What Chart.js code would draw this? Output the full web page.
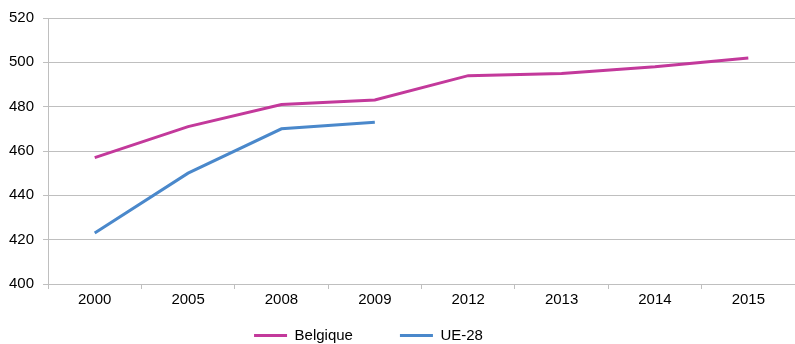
<!DOCTYPE html>
<html><head><meta charset="utf-8">
<script src="https://cdn.jsdelivr.net/npm/chart.js@4/dist/chart.umd.min.js"></script>
<style>html,body{margin:0;padding:0;background:#fff}#w{width:795px;height:344px;position:relative}</style>
</head><body><div id="w"><canvas id="c"></canvas></div>
<script>
const categories = ["2000","2005","2008","2009","2012","2013","2014","2015"];
const belgique = [457, 471, 481, 483, 494, 495, 498, 502];
const ue28 = [423, 450, 470, 473, null, null, null, null];
const yTicks = [400, 420, 440, 460, 480, 500, 520];

Chart.defaults.font.family = "'Liberation Sans', Arial, sans-serif";
Chart.defaults.font.size = 15;
Chart.defaults.color = "#000";

const LEGEND_H = 35;
const legendTweak = {
  id: 'legendTweak',
  beforeUpdate(chart) {
    const lg = chart.legend;
    if (lg && !lg._patched) {
      const orig = lg.fit.bind(lg);
      lg.fit = function () { orig(); this.height = LEGEND_H; };
      lg._patched = true;
    }
  },
  beforeDraw(chart) {
    const lg = chart.legend;
    if (!lg) return;
    const P = lg.options.labels.padding;
    const bottom = chart.height;
    lg.top = bottom - 16 - P;
    lg.bottom = bottom;
    lg.height = lg.bottom - lg.top;
    lg.left = -29;
    lg.right = lg.left + lg.width;
  }
};

new Chart(document.getElementById('c'), {
  type: 'line',
  data: {
    labels: categories,
    datasets: [
      {label: 'Belgique', data: belgique, borderColor: '#C3399B', backgroundColor: '#C3399B', borderWidth: 3, pointRadius: 0, tension: 0, spanGaps: false},
      {label: 'UE-28', data: ue28, borderColor: '#4A88CB', backgroundColor: '#4A88CB', borderWidth: 3, pointRadius: 0, tension: 0, spanGaps: false}
    ]
  },
  options: {
    responsive: true, maintainAspectRatio: false, animation: false,
    layout: {padding: {top: 5, right: 0, left: 0, bottom: 0}},
    plugins: {
      tooltip: {enabled: false},
      legend: {
        position: 'bottom',
        labels: {
          boxWidth: 33, boxHeight: 3, padding: 47, font: {size: 15}, color: '#000',
          generateLabels: (chart) => Chart.defaults.plugins.legend.labels.generateLabels(chart).map(l => Object.assign(l, {lineWidth: 0}))
        }
      }
    },
    scales: {
      x: {
        offset: true,
        afterFit: (s) => { s.height = 25; },
        grid: {offset: true, drawOnChartArea: false, drawTicks: true, tickLength: 5, color: '#BFBFBF'},
        border: {color: '#BFBFBF', width: 1},
        ticks: {padding: 2, maxRotation: 0, font: {size: 15}, color: '#000'}
      },
      y: {
        min: 400, max: 520,
        afterBuildTicks: (s) => { s.ticks = yTicks.map(v => ({value: v})); },
        grid: {color: '#BFBFBF', drawTicks: true, tickLength: 5},
        border: {color: '#BFBFBF', width: 1},
        ticks: {padding: 9, font: {size: 15}, color: '#000'}
      }
    }
  },
  plugins: [legendTweak]
});
</script></body></html>
